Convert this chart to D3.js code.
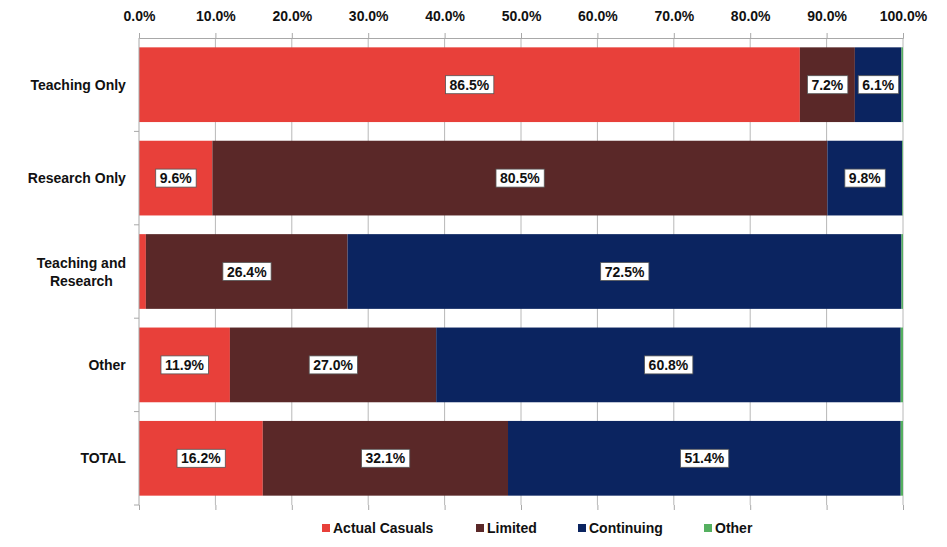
<!DOCTYPE html>
<html>
<head>
<meta charset="utf-8">
<script src="https://cdn.jsdelivr.net/npm/d3@7"></script>
<style>
body{margin:0;background:#fff;}
svg{display:block;font-family:Arial,"Liberation Sans",sans-serif;font-weight:bold;}
</style>
</head>
<body>
<svg id="chart" width="947" height="547"></svg>
<script>
const categories = [["Teaching Only"], ["Research Only"], ["Teaching and", "Research"], ["Other"], ["TOTAL"]];
const seriesNames = ["Actual Casuals", "Limited", "Continuing", "Other"];
const seriesColors = ["#E8403A", "#5A2828", "#0B2460", "#55B060"];
const actualCasuals = [86.5, 9.6, 0.9, 11.9, 16.2];
const limited = [7.2, 80.5, 26.4, 27.0, 32.1];
const continuing = [6.1, 9.8, 72.5, 60.8, 51.4];
const other = [0.2, 0.1, 0.2, 0.3, 0.3];
const tickValues = [0, 10, 20, 30, 40, 50, 60, 70, 80, 90, 100];
const labelMin = 5;

(function () {
const svg = d3.select("#chart");
const pLeft = 139, pRight = 903, pTop = 38, pBottom = 505;
const fs = 14;
const x = d3.scaleLinear().domain([0, 100]).range([pLeft, pRight]);
const y = d3.scaleBand().domain(d3.range(categories.length)).range([pTop, pBottom]).paddingInner(0.2).paddingOuter(0.1);

// gridlines
svg.append("g").selectAll("line").data(tickValues.slice(1)).join("line")
  .attr("x1", d => x(d)).attr("x2", d => x(d))
  .attr("y1", pTop).attr("y2", pBottom)
  .attr("stroke", "#b8b8b8").attr("stroke-width", 1);

// top axis
const xAxis = d3.axisTop(x).tickValues(tickValues).tickSize(5).tickFormat(d => d.toFixed(1) + "%");
const gx = svg.append("g").attr("transform", `translate(0,${pTop})`).call(xAxis);
gx.select(".domain").attr("stroke", "#a8a8a8");
gx.selectAll(".tick line").attr("stroke", "#a8a8a8");
gx.selectAll(".tick text").attr("font-size", fs).attr("font-weight", "bold").attr("fill", "#111")
  .attr("font-family", "Arial, 'Liberation Sans', sans-serif").attr("y", -17).attr("dy", 0);

// bottom ticks
const gb = svg.append("g").attr("transform", `translate(0,${pBottom})`)
  .call(d3.axisBottom(x).tickValues(tickValues).tickSize(5).tickFormat(""));
gb.select(".domain").remove();
gb.selectAll(".tick line").attr("stroke", "#a8a8a8");

// stacked data
const rows = categories.map((c, i) => ({i, vals: [actualCasuals[i], limited[i], continuing[i], other[i]]}));
const segs = [];
rows.forEach(r => {
  let acc = 0;
  r.vals.forEach((v, s) => { segs.push({i: r.i, s, x0: acc, x1: acc + v, v}); acc += v; });
});

svg.append("g").selectAll("rect").data(segs).join("rect")
  .attr("x", d => x(d.x0)).attr("width", d => Math.max(0, x(d.x1) - x(d.x0)))
  .attr("y", d => y(d.i)).attr("height", y.bandwidth())
  .attr("fill", d => seriesColors[d.s]);

// left axis
const bounds = d3.range(categories.length + 1).map(i => pTop + i * (pBottom - pTop) / categories.length);
svg.append("line").attr("x1", pLeft).attr("x2", pLeft).attr("y1", pTop).attr("y2", pBottom).attr("stroke", "#a8a8a8");
svg.append("g").selectAll("line").data(bounds.slice(1)).join("line")
  .attr("x1", pLeft - 5).attr("x2", pLeft).attr("y1", d => d).attr("y2", d => d).attr("stroke", "#a8a8a8");

// category labels
const labelRight = 126;
const cl = svg.append("g").selectAll("text").data(categories).join("text")
  .attr("text-anchor", "middle").attr("font-size", fs).attr("fill", "#111")
  .attr("y", (d, i) => y(i) + y.bandwidth() / 2 - (d.length - 1) * 9 + 5);
cl.each(function(d) {
  const t = d3.select(this);
  d.forEach((line, k) => {
    t.append("tspan").attr("x", 0).attr("dy", k === 0 ? 0 : 18).text(line);
  });
  const w = this.getBBox().width;
  t.selectAll("tspan").attr("x", labelRight - w / 2);
});

// value labels
const lab = svg.append("g").selectAll("g").data(segs.filter(d => d.s < 3 && d.v >= labelMin)).join("g")
  .attr("transform", d => `translate(${(x(d.x0) + x(d.x1)) / 2},${y(d.i) + y.bandwidth() / 2})`);
lab.append("text").attr("text-anchor", "middle").attr("dy", "0.36em").attr("font-size", fs).attr("fill", "#111")
  .text(d => d.v.toFixed(1) + "%");
lab.each(function() {
  const g = d3.select(this);
  const bb = g.select("text").node().getBBox();
  g.insert("rect", "text").attr("x", bb.x - 4).attr("y", -9).attr("width", bb.width + 8).attr("height", 18)
    .attr("fill", "#fff").attr("stroke", "#555").attr("stroke-width", 0.8);
});

// legend
const legendX = [322, 476, 578, 704];
const lg = svg.append("g").selectAll("g").data(seriesNames).join("g")
  .attr("transform", (d, i) => `translate(${legendX[i]},528)`);
lg.append("rect").attr("x", 0).attr("y", -4).attr("width", 8).attr("height", 8).attr("fill", (d, i) => seriesColors[i]);
lg.append("text").attr("x", 11).attr("dy", "0.36em").attr("font-size", fs).attr("fill", "#111").text(d => d);
})();
</script>
</body>
</html>
